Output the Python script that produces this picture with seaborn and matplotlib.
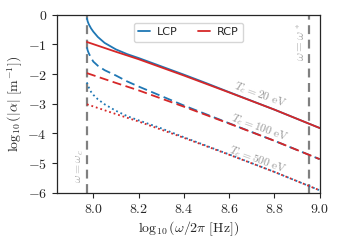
import numpy as np
import pandas as pd
import seaborn as sns
import matplotlib
matplotlib.use("Agg")
import matplotlib.pyplot as plt
from matplotlib.ticker import FuncFormatter

# log10(omega/2pi) grid for the RCP curves
x_rcp = [7.972, 8.1, 8.2, 8.3, 8.4, 8.5, 8.6, 8.7, 8.8, 8.9, 9.0]
rcp_20 = [-0.92, -1.25, -1.50, -1.775, -2.05, -2.335, -2.62, -2.91, -3.20, -3.51, -3.82]
rcp_100 = [-1.97, -2.30, -2.55, -2.825, -3.10, -3.385, -3.67, -3.96, -4.25, -4.56, -4.87]
rcp_500 = [-3.02, -3.35, -3.60, -3.875, -4.15, -4.435, -4.72, -5.01, -5.30, -5.61, -5.92]

# LCP curves (resonant near omega_c)
x_lcp = [7.972, 7.975, 7.98, 7.99, 8.0, 8.02, 8.05, 8.1, 8.15, 8.2, 8.3, 8.4, 8.5, 8.6, 8.8, 9.0]
lcp_20 = [-0.12, -0.22, -0.32, -0.46, -0.57, -0.75, -0.95, -1.17, -1.33, -1.46, -1.74, -2.02, -2.31, -2.61, -3.20, -3.82]
lcp_100 = [-1.10, -1.20, -1.30, -1.45, -1.58, -1.72, -1.87, -2.05, -2.25, -2.42, -2.74, -3.06, -3.36, -3.66, -4.25, -4.87]
lcp_500 = [-2.28, -2.36, -2.45, -2.60, -2.70, -2.85, -3.02, -3.24, -3.42, -3.56, -3.83, -4.13, -4.42, -4.71, -5.30, -5.92]

x_wc = 7.972
x_wstar = 8.954
temps = ["20", "100", "500"]

sns.set_style("ticks")
plt.rcParams["mathtext.fontset"] = "cm"
plt.rcParams["font.family"] = ["DejaVu Sans"]

fig = plt.figure(figsize=(3.39, 2.45), dpi=100)
ax = fig.add_axes([0.167, 0.2135, 0.776, 0.7265])

blue = "#1f77b4"
red = "#d62728"
styles = ["-", (0, (5, 2.5)), (0, (1, 1.6))]
for i, (lc, rc) in enumerate(zip([lcp_20, lcp_100, lcp_500], [rcp_20, rcp_100, rcp_500])):
    sns.lineplot(x=x_lcp, y=lc, color=blue, lw=1.3, linestyle=styles[i],
                 label="LCP" if i == 0 else None, ax=ax, sort=False)
    sns.lineplot(x=x_rcp, y=rc, color=red, lw=1.3, linestyle=styles[i],
                 label="RCP" if i == 0 else None, ax=ax, sort=False)

ax.axvline(x_wc, color="#808080", lw=1.6, ls=(0, (4, 2.5)), zorder=0)
ax.axvline(x_wstar, color="#808080", lw=1.6, ls=(0, (4, 2.5)), zorder=0)

ax.text(7.94, -5.1, r"$\omega = \omega_c$", rotation=90, color="#aaaaaa",
        fontsize=8.5, ha="center", va="center")
ax.text(8.918, -0.92, r"$\omega = \omega^*$", rotation=90, color="#aaaaaa",
        fontsize=9, ha="center", va="center")

for t, (tx, ty) in zip(temps, [(8.735, -2.7), (8.735, -3.8), (8.725, -4.88)]):
    ax.text(tx, ty, r"$T_e = %s\ \mathrm{eV}$" % t, rotation=-20, color="#999999",
            fontsize=8.3, ha="center", va="center", rotation_mode="anchor")

ax.set_xlim(7.838, 9.0)
ax.set_ylim(-6, 0)
ax.set_xticks([8.0, 8.2, 8.4, 8.6, 8.8, 9.0])
ax.set_yticks([0, -1, -2, -3, -4, -5, -6])
ax.xaxis.set_major_formatter(FuncFormatter(lambda v, p: r"$%.1f$" % v))
ax.yaxis.set_major_formatter(FuncFormatter(lambda v, p: r"$%d$" % round(v)))
ax.tick_params(labelsize=10, length=3.5, width=0.8, direction="out")
for s in ax.spines.values():
    s.set_linewidth(0.9)
ax.set_xlabel(r"$\log_{10}(\omega/2\pi\ [\mathrm{Hz}])$", fontsize=10, labelpad=2)
ax.set_ylabel(r"$\log_{10}(|\alpha|\ [\mathrm{m}^{-1}])$", fontsize=10, labelpad=2)

ax.legend(loc="upper center", ncol=2, fontsize=8, columnspacing=1.8,
          handlelength=1.1, handletextpad=0.6, frameon=True,
          bbox_to_anchor=(0.5, 0.985))

fig.savefig("out.png", dpi=100)
